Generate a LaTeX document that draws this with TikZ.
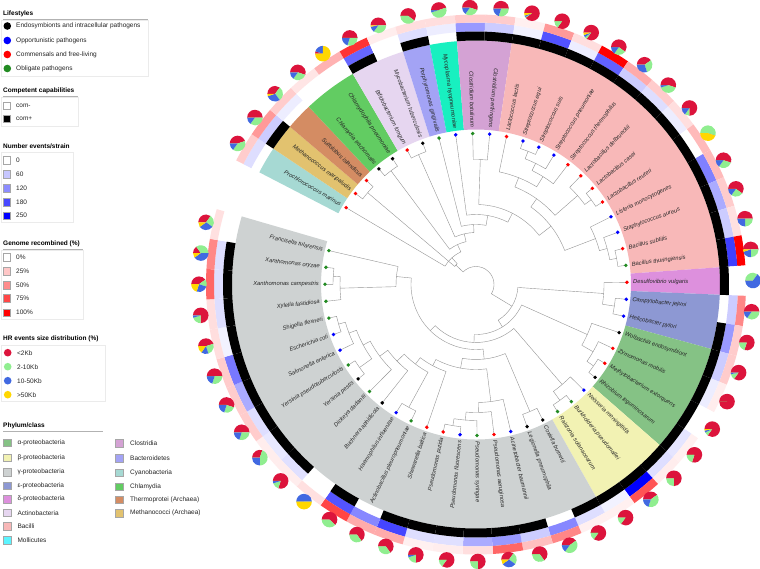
\documentclass[tikz,border=0pt]{standalone}
\usepackage{fontspec}
\setmainfont{Liberation Sans}
\usepackage{xcolor}
\usetikzlibrary{calc}
% phylum colours
\definecolor{Alpha}{HTML}{85C285}
\definecolor{Beta}{HTML}{F2F2B3}
\definecolor{Gamma}{HTML}{CED2D2}
\definecolor{Epsilon}{HTML}{8D98D3}
\definecolor{Delta}{HTML}{DD90DD}
\definecolor{Actino}{HTML}{E6D6F0}
\definecolor{Bacilli}{HTML}{F8B8B8}
\definecolor{Molli}{HTML}{18F0C0}
\definecolor{MolliKey}{HTML}{5CF5FF}
\definecolor{Clostri}{HTML}{D4A2D4}
\definecolor{Bactero}{HTML}{A3A3F5}
\definecolor{Cyano}{HTML}{A6D9D3}
\definecolor{Chlamy}{HTML}{62CC62}
\definecolor{Thermo}{HTML}{D48C63}
\definecolor{Methano}{HTML}{E2C26F}
% lifestyles
\definecolor{Endo}{HTML}{000000}
\definecolor{Oppo}{HTML}{0000FF}
\definecolor{Comm}{HTML}{FF0000}
\definecolor{Obli}{HTML}{228B22}
% HR event sizes
\definecolor{LtTwo}{HTML}{DC143C}
\definecolor{TwoTen}{HTML}{90EE90}
\definecolor{TenFifty}{HTML}{4169E1}
\definecolor{GtFifty}{HTML}{FFD700}
\tikzset{
  branch/.style={draw=black!42, line width=0.4pt},
  lifedot/.style={circle, inner sep=0pt, minimum size=3.8pt},
  leaflab/.style={font={\fontsize{5.8}{6.5}\selectfont\itshape}, text=black!85, inner sep=0pt},
  keytext/.style={font={\fontsize{6.5}{7}\selectfont}, anchor=west, inner sep=0pt, text=black!85},
  keytitle/.style={font={\fontsize{6.5}{7}\selectfont\bfseries}, anchor=west, inner sep=0pt},
  keybox/.style={draw=black!35, line width=0.3pt, minimum size=7.5pt, inner sep=0pt},
  keydot/.style={circle, inner sep=0pt, minimum size=7.6pt},
  keyframe/.style={draw=black!8, line width=0.4pt},
  keyrule/.style={draw=black!30, line width=0.5pt}
}
% ring segment over leaves #1..#2, radii #3..#4
\newcommand{\band}[5]{%
  \pgfmathsetmacro{\bA}{149.4-(#1-1.5)*6.46}%
  \pgfmathsetmacro{\bB}{149.4-(#2-0.5)*6.46}%
  \fill[#5] (\bA:#3) arc[start angle=\bA, end angle=\bB, radius=#3]
    -- (\bB:#4) arc[start angle=\bB, end angle=\bA, radius=#4] -- cycle;
}
% join two children (position, radius) at radius #5
\newcommand{\clade}[5]{%
  \pgfmathsetmacro{\cA}{149.4-(#1-1)*6.46}%
  \pgfmathsetmacro{\cB}{149.4-(#3-1)*6.46}%
  \draw[branch] (\cA:#2) -- (\cA:#5) arc[start angle=\cA, end angle=\cB, radius=#5] -- (\cB:#4);
}
\newcommand{\pieslice}[3]{%
  \fill[#3] (pie) -- ++(#1:7.8) arc[start angle=#1, end angle=#2, radius=7.8] -- cycle;
}
\newcommand{\hrpie}[5]{%
  \pgfmathsetmacro{\pA}{180-3.6*#2}%
  \pgfmathsetmacro{\pB}{\pA-3.6*#3}%
  \pgfmathsetmacro{\pC}{\pB-3.6*#4}%
  \coordinate (pie) at (#1:277);
  \pieslice{180}{\pA}{LtTwo}
  \pieslice{\pA}{\pB}{TwoTen}
  \pieslice{\pB}{\pC}{TenFifty}
  \pieslice{\pC}{-180}{GtFifty}
}

\begin{document}
\begin{tikzpicture}[x=1pt, y=1pt]
  \useasboundingbox (0,0) rectangle (760,568);
  \fill[white] (0,0) rectangle (760,568);

  % legend
  \begin{scope}[shift={(0,568)}, y=-1pt]
    \node[keytitle] at (3,14) {Lifestyles};
    \draw[keyrule] (3,19.5) -- (148,19.5);
    \draw[keyframe] (1,20) rectangle (148,76);
    \foreach \yy/\cc/\txt [count=\k] in {26/Endo/Endosymbionts and intracellular pathogens,
        40.5/Oppo/Opportunistic pathogens, 54.5/Comm/Commensals and free-living, 68.5/Obli/Obligate pathogens}
      {\node[keydot, fill=\cc] (life\k) at (7.3,\yy) {};
       \node[keytext] at (16,\yy) {\txt};}

    \node[keytitle] at (3,91) {Competent capabilities};
    \draw[keyrule] (3,96.5) -- (78,96.5);
    \draw[keyframe] (1,97) rectangle (78,126);
    \foreach \yy/\cc/\txt [count=\k] in {105.5/white/com-, 118.7/black/com+}
      {\node[keybox, fill=\cc] (comp\k) at (6.7,\yy) {};
       \node[keytext] at (16,\yy) {\txt};}

    \node[keytitle] at (3,146.7) {Number events/strain};
    \draw[keyrule] (3,152) -- (73,152);
    \draw[keyframe] (1,152.5) rectangle (73,222);
    \foreach \yy/\cc/\txt [count=\k] in {160/white/0, 174/blue!22/60, 188.3/blue!45/120, 202/blue!72/180, 215.7/blue/250}
      {\node[keybox, fill=\cc] (ev\k) at (6.7,\yy) {};
       \node[keytext] at (16,\yy) {\txt};}

    \node[keytitle] at (3,243.7) {Genome recombined (\%)};
    \draw[keyrule] (3,249.5) -- (83,249.5);
    \draw[keyframe] (1,250) rectangle (83,319);
    \foreach \yy/\cc/\txt [count=\k] in {257/white/0\%, 271/red!22/25\%, 285.3/red!45/50\%, 298.3/red!72/75\%, 312.7/red/100\%}
      {\node[keybox, fill=\cc] (gen\k) at (6.7,\yy) {};
       \node[keytext] at (16,\yy) {\txt};}

    \node[keytitle] at (3,339.3) {HR events size distribution (\%)};
    \draw[keyrule] (3,345) -- (105,345);
    \draw[keyframe] (1,345.5) rectangle (105,401);
    \foreach \yy/\cc/\txt [count=\k] in {352.7/LtTwo/<2Kb, 366.7/TwoTen/2-10Kb, 380.7/TenFifty/10-50Kb, 394.7/GtFifty/>50Kb}
      {\node[keydot, fill=\cc] (hr\k) at (7.7,\yy) {};
       \node[keytext] at (17,\yy) {\txt};}

    \node[keytitle] at (3,425.7) {Phylum/class};
    \draw[keyrule] (3,431.3) -- (103,431.3);
    \foreach \yy/\cc/\txt [count=\k] in {442.7/Alpha/α-proteobacteria, 457.7/Beta/β-proteobacteria,
        472/Gamma/γ-proteobacteria, 485.7/Epsilon/ε-proteobacteria, 499.3/Delta/δ-proteobacteria,
        512.7/Actino/Actinobacteria, 526.3/Bacilli/Bacilli, 540.3/MolliKey/Mollicutes}
      {\node[keybox, fill=\cc] (phy\k) at (7.3,\yy) {};
       \node[keytext] at (17.3,\yy) {\txt};}
    \foreach \yy/\cc/\txt [count=\k] in {443.3/Clostri/Clostridia, 458/Bactero/Bacteroidetes,
        472.7/Cyano/Cyanobacteria, 486.7/Chlamy/Chlamydia, 499.7/Thermo/Thermoprotei (Archaea),
        513.3/Methano/Methanococci (Archaea)}
      {\node[keybox, fill=\cc] (cls\k) at (119,\yy) {};
       \node[keytext] at (130,\yy) {\txt};}
  \end{scope}

  % circular tree
  \begin{scope}[shift={(476,283.5)}]
    % clade backgrounds
    \band{1}{1}{155}{244}{Cyano}
    \band{2}{2}{155}{244}{Methano}
    \band{3}{3}{155}{244}{Thermo}
    \band{4}{5}{155}{244}{Chlamy}
    \band{6}{7}{155}{244}{Actino}
    \band{8}{8}{155}{244}{Bactero}
    \band{9}{9}{155}{244}{Molli}
    \band{10}{11}{155}{244}{Clostri}
    \band{12}{23}{155}{244}{Bacilli}
    \band{24}{24}{155}{244}{Delta}
    \band{25}{26}{155}{244}{Epsilon}
    \band{27}{30}{155}{244}{Alpha}
    \band{31}{33}{155}{244}{Beta}
    \band{34}{54}{155}{244}{Gamma}

    % branches
    \clade{2}{151}{3}{151}{142}
    \clade{4}{151}{5}{151}{142}
    \clade{6}{151}{7}{151}{142}
    \clade{10}{151}{11}{151}{125}
    \clade{13}{151}{14}{151}{143}
    \clade{13.5}{143}{15}{151}{135}
    \clade{14.25}{135}{16}{151}{127}
    \clade{12}{151}{15.125}{127}{115}
    \clade{18}{151}{19}{151}{143}
    \clade{17}{151}{18.5}{143}{135}
    \clade{13.5625}{115}{17.75}{135}{105}
    \clade{22}{151}{23}{151}{143}
    \clade{21}{151}{22.5}{143}{136}
    \clade{20}{151}{21.75}{136}{128}
    \clade{15.656}{105}{20.875}{128}{95}
    \clade{10.5}{125}{18.266}{95}{80}
    \clade{9}{151}{14.383}{80}{70}
    \clade{8}{151}{11.69}{70}{60}
    \clade{6.5}{142}{9.845}{60}{52}
    \clade{4.5}{142}{8.17}{52}{44}
    \clade{1}{151}{6.34}{44}{36}
    \clade{2.5}{142}{3.67}{36}{28}
    \clade{25}{151}{26}{151}{140}
    \clade{24}{151}{25.5}{140}{128}
    \clade{29}{151}{30}{151}{143}
    \clade{28}{151}{29.5}{143}{135}
    \clade{27}{151}{28.75}{135}{122}
    \clade{32}{151}{33}{151}{143}
    \clade{31}{151}{32.5}{143}{132}
    \clade{34}{151}{35}{151}{138}
    \clade{39}{151}{40}{151}{143}
    \clade{38}{151}{39.5}{143}{136}
    \clade{37}{151}{38.75}{136}{128}
    \clade{36}{151}{37.875}{128}{118}
    \clade{42}{151}{43}{151}{140}
    \clade{46}{151}{47}{151}{143}
    \clade{49}{151}{50}{151}{143}
    \clade{48}{151}{49.5}{143}{136}
    \clade{46.5}{143}{48.75}{136}{128}
    \clade{45}{151}{47.625}{128}{120}
    \clade{44}{151}{46.31}{120}{110}
    \clade{42.5}{140}{45.16}{110}{100}
    \clade{41}{151}{43.83}{100}{92}
    \clade{52}{151}{53}{151}{143}
    \clade{51}{151}{52.5}{143}{136}
    \clade{51.75}{136}{54}{151}{80}
    \clade{36.94}{118}{42.41}{92}{85}
    \clade{34.5}{138}{39.68}{85}{75}
    \clade{37.09}{75}{52.875}{80}{65}
    \clade{31.75}{132}{44.98}{65}{58}
    \clade{27.875}{122}{38.37}{58}{50}
    \clade{24.75}{128}{33.12}{50}{42}
    \clade{3.085}{28}{28.94}{42}{18}

    % leaves: events, genome, competence, lifestyle, HR sizes
    \foreach \i/\ev/\gn/\cp/\lc/\pr/\pg/\pb/\py/\nm in {
      1/13/20/0/Comm/45/40/15/0/Prochlorococcus marinus,
      2/20/40/1/Comm/50/35/15/0/Methanococcus maripaludis,
      3/7/20/0/Comm/35/30/30/5/Sulfolobus islandicus,
      4/0/10/0/Endo/55/30/15/0/Chlamydia trachomatis,
      5/0/30/0/Endo/5/0/20/75/Chlamydophila pneumoniae,
      6/60/80/1/Comm/50/30/20/0/Bifidobacterium longum,
      7/0/7/0/Endo/50/35/12/3/Mycobacterium tuberculosis,
      8/13/13/1/Obli/60/40/0/0/Porphyromonas gingivalis,
      9/7/13/0/Oppo/45/50/5/0/Mycoplasma hyopneumoniae,
      10/40/20/1/Obli/55/30/15/0/Clostridium botulinum,
      11/20/20/1/Oppo/50/30/20/0/Clostridium perfringens,
      12/5/6/1/Comm/90/2/3/5/Lactococcus lactis,
      13/68/40/1/Oppo/85/15/0/0/Streptococcus equi,
      14/7/13/1/Oppo/85/5/5/5/Streptococcus suis,
      15/62/100/1/Oppo/60/25/15/0/Streptococcus pneumoniae,
      16/20/33/1/Comm/40/30/30/0/Streptococcus thermophilus,
      17/13/20/1/Comm/55/40/5/0/Lactobacillus delbrueckii,
      18/7/13/1/Comm/75/10/15/0/Lactobacillus casei,
      19/0/27/1/Comm/0/55/0/45/Lactobacillus reuteri,
      20/50/27/1/Oppo/55/30/15/0/Listeria monocytogenes,
      21/33/20/1/Oppo/60/25/15/0/Staphylococcus aureus,
      22/20/12/1/Comm/50/25/25/0/Bacillus subtilis,
      23/75/100/1/Obli/50/25/20/5/Bacillus thuringiensis,
      24/0/0/1/Comm/0/35/65/0/Desulfovibrio vulgaris,
      25/20/47/0/Oppo/50/35/15/0/Campylobacter jejuni,
      26/40/20/1/Oppo/80/20/0/0/Helicobacter pylori,
      27/20/20/1/Endo/85/12/3/0/Wolbachia endosymbiont,
      28/7/7/1/Comm/100/0/0/0/Zymomonas mobilis,
      29/0/0/1/Comm/85/8/4/3/Methylobacterium extorquens,
      30/10/6/1/Endo/80/20/0/0/Rhizobium leguminosarum,
      31/13/7/1/Oppo/75/25/0/0/Neisseria meningitidis,
      32/100/67/1/Obli/40/40/20/0/Burkholderia pseudomallei,
      33/5/6/1/Obli/85/15/0/0/Ralstonia solanacearum,
      34/13/6/1/Endo/85/15/0/0/Coxiella burnetii,
      35/47/47/0/Endo/40/45/15/0/Legionella pneumophila,
      36/20/25/1/Oppo/65/35/0/0/Acinetobacter baumannii,
      37/40/60/1/Comm/35/25/30/10/Pseudomonas aeruginosa,
      38/33/13/1/Obli/75/25/0/0/Pseudomonas syringae,
      39/12/7/1/Oppo/85/15/0/0/Pseudomonas fluorescens,
      40/13/6/1/Comm/75/20/5/0/Pseudomonas putida,
      41/73/33/1/Comm/65/35/0/0/Shewanella baltica,
      42/47/33/0/Obli/65/35/0/0/Actinobacillus pleuropneumoniae,
      43/67/73/1/Oppo/62/38/0/0/Haemophilus influenzae,
      44/0/12/0/Endo/0/0/50/50/Buchnera aphidicola,
      45/12/7/1/Obli/80/15/5/0/Dickeya dadantii,
      46/9/7/1/Endo/30/45/25/0/Yersinia pestis,
      47/13/20/1/Obli/50/30/20/0/Yersinia pseudotuberculosis,
      48/33/20/1/Oppo/55/25/20/0/Salmonella enterica,
      49/53/20/1/Oppo/50/30/20/0/Escherichia coli,
      50/5/13/1/Obli/45/25/15/15/Shigella flexneri,
      51/13/13/1/Obli/75/20/5/0/Xylella fastidiosa,
      52/13/60/1/Obli/40/15/25/20/Xanthomonas campestris,
      53/13/47/1/Obli/15/35/40/10/Xanthomonas oryzae,
      54/0/12/0/Obli/35/25/30/10/Francisella tularensis}
    {
      \pgfmathsetmacro{\ang}{149.4-(\i-1)*6.46}
      \band{\i}{\i}{253}{262}{blue!\ev}
      \band{\i}{\i}{262}{270}{red!\gn}
      \ifnum\cp=1 \band{\i}{\i}{244}{253}{black}\fi
      \node[lifedot, fill=\lc] (leaf\i) at (\ang:151) {};
      \def\anc{west}\pgfmathsetmacro{\rot}{\ang}
      \ifnum\i<12 \def\anc{east}\pgfmathsetmacro{\rot}{\ang+180}\fi
      \ifnum\i>38 \def\anc{east}\pgfmathsetmacro{\rot}{\ang+180}\fi
      \node[leaflab, anchor=\anc, rotate=\rot] (lab\i) at (\ang:157) {\nm};
      \hrpie{\ang}{\pr}{\pg}{\pb}{\py}
    }
  \end{scope}
\end{tikzpicture}
\end{document}
